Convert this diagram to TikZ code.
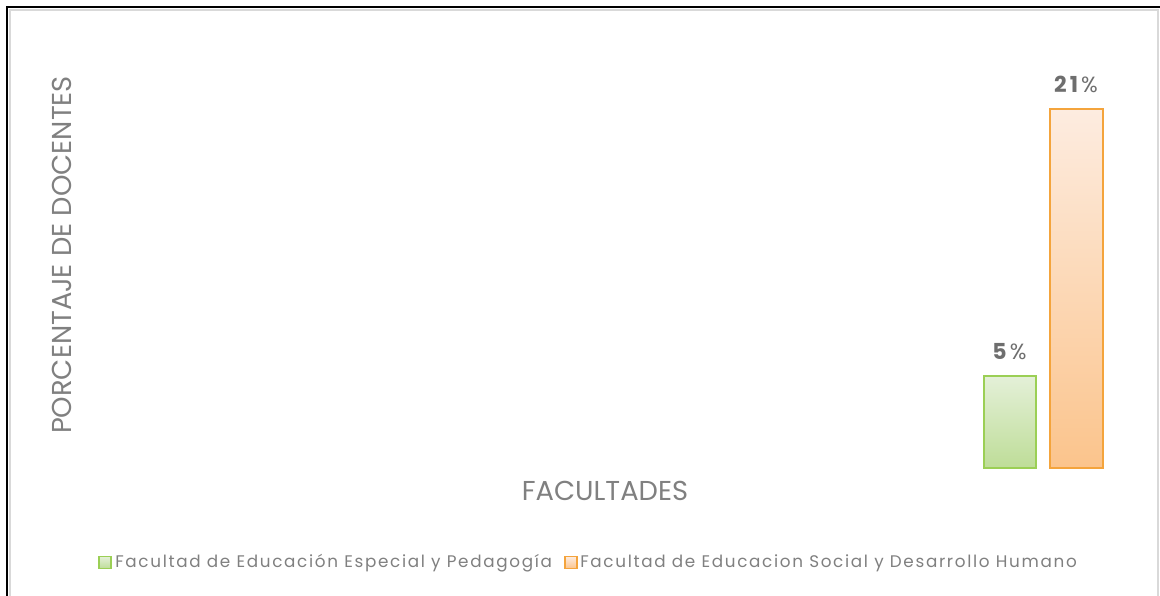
\documentclass[tikz,border=0pt]{standalone}
\usepackage{fontspec}
\setmainfont{Poppins}
\newfontfamily\legfont[LetterSpace=10]{Poppins}
\newfontfamily\valfont[LetterSpace=14]{Poppins}
\usetikzlibrary{positioning}

\definecolor{txtgray}{HTML}{808080}
\definecolor{lblgray}{HTML}{6E6E6E}
\definecolor{frmgray}{HTML}{D9D9D9}
\definecolor{espline}{HTML}{9BCF55}
\definecolor{esptop}{HTML}{E4F0D8}
\definecolor{espbot}{HTML}{BEDD98}
\definecolor{socline}{HTML}{F4A43C}
\definecolor{soctop}{HTML}{FDECE0}
\definecolor{socbot}{HTML}{FBC48C}

\tikzset{
  axistitle/.style={text=txtgray, font=\fontsize{20.5}{20.5}\selectfont, inner sep=0pt},
  vallabel/.style={text=lblgray, font=\valfont\fontsize{16.5}{16.5}\selectfont, inner sep=0pt},
  legtext/.style={text=txtgray, font=\legfont\fontsize{12.6}{12.6}\selectfont, inner sep=0pt, anchor=west},
  espbar/.style={draw=espline, line width=1.5pt, top color=esptop, bottom color=espbot},
  socbar/.style={draw=socline, line width=1.5pt, top color=soctop, bottom color=socbot},
}

\begin{document}
\begin{tikzpicture}[x=0.75pt, y=-0.75pt]
  \useasboundingbox (0,0) rectangle (1160,596);
  \fill[white] (0,0) rectangle (1160,596);
  % frame
  \draw[frmgray, line width=1.5pt] (10,596) -- (10,10) -- (1158,10) -- (1158,596);
  \draw[black, line width=2.2pt] (7,596) -- (7,7) -- (1160,7);

  % axis titles
  \node[axistitle, rotate=90] (ytitle) at (62,255) {PORCENTAJE DE DOCENTES};
  \node[axistitle] (xtitle) at (605,491) {FACULTADES};

  % bars
  \draw[espbar] (983.5,376) rectangle (1036,468);
  \draw[socbar] (1049.5,109) rectangle (1103,468);
  \coordinate (esptop) at (1009.5,376);
  \coordinate (soctop) at (1076,109);
  \node[vallabel, above=12pt of esptop] (espval) {\textbf{5}\%};
  \node[vallabel, above=12pt of soctop] (socval) {\textbf{21}\%};

  % legend
  \draw[espbar, line width=1.4pt] (99,556.5) rectangle (111,568.5);
  \node[legtext] (espleg) at (115,563) {Facultad de Educación Especial y Pedagogía};
  \draw[socbar, line width=1.4pt] (565,556.5) rectangle (577,568.5);
  \node[legtext] (socleg) at (580,563) {Facultad de Educacion Social y Desarrollo Humano};
\end{tikzpicture}
\end{document}
